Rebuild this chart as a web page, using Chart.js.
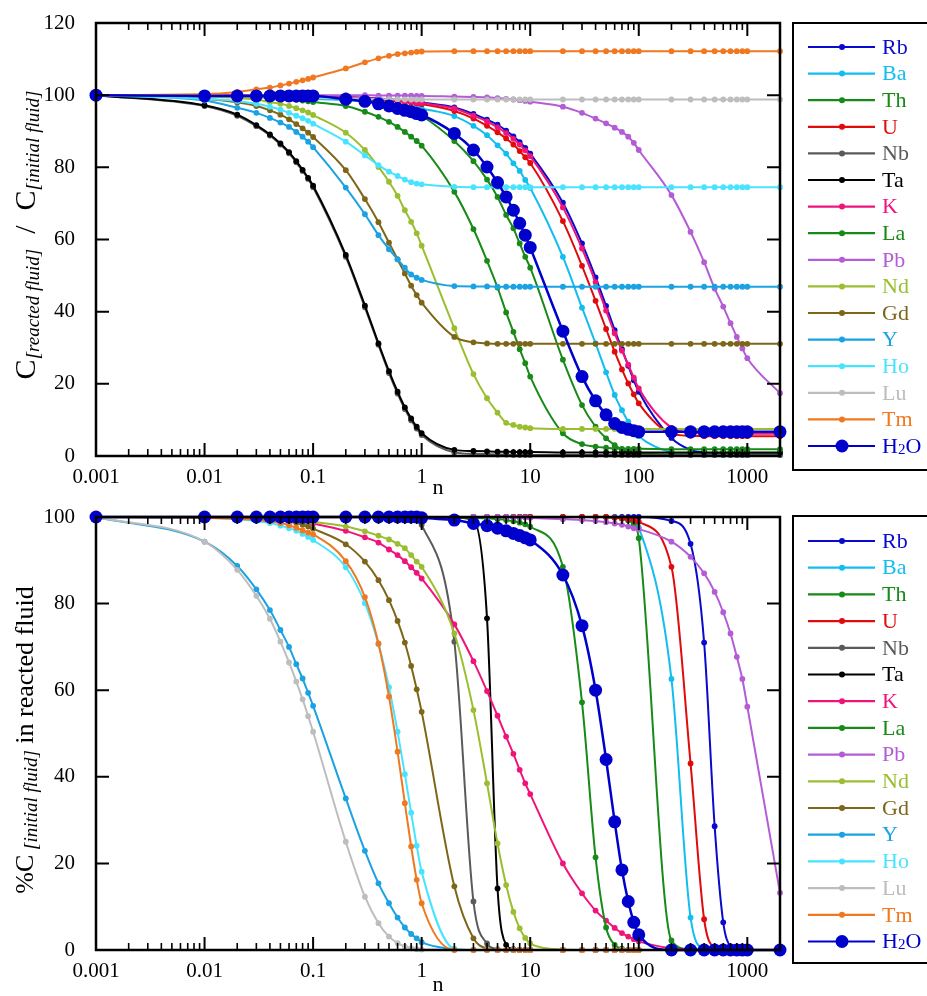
<!DOCTYPE html>
<html>
<head>
<meta charset="utf-8">
<script src="https://cdn.jsdelivr.net/npm/chart.js@4.4.1/dist/chart.umd.min.js"></script>
<style>
  html, body { margin: 0; padding: 0; background: #fff; }
  #wrap { position: relative; width: 927px; height: 996px; overflow: hidden; }
  canvas { position: absolute; left: 0; }
  #top { top: 0; }
  #bottom { top: 490px; }
</style>
</head>
<body>
<div id="wrap">
  <canvas id="top" width="927" height="500"></canvas>
  <canvas id="bottom" width="927" height="506"></canvas>
</div>
<script>
// n values (x axis, log)
const nValues = [0.001,
  0.01, 0.02, 0.03, 0.04, 0.05, 0.06, 0.07, 0.08, 0.09,
  0.1, 0.2, 0.3, 0.4, 0.5, 0.6, 0.7, 0.8, 0.9,
  1, 2, 3, 4, 5, 6, 7, 8, 9,
  10, 20, 30, 40, 50, 60, 70, 80, 90,
  100, 200, 300, 400, 500, 600, 700, 800, 900,
  1000, 2000];

const decadeTicks = [0.001, 0.01, 0.1, 1, 10, 100, 1000];

const elements = ['Rb', 'Ba', 'Th', 'U', 'Nb', 'Ta', 'K', 'La', 'Pb', 'Nd', 'Gd', 'Y', 'Ho', 'Lu', 'Tm', 'H2O'];
const colors = ['#0a0acc', '#14bdf0', '#178a17', '#e00b0b', '#5a5a5a', '#000000', '#f0147a', '#178a17',
  '#b35cd6', '#9abe30', '#7d6618', '#1aa2e2', '#48e4ff', '#bdbdbd', '#f07820', '#0000cc'];

// ---- top panel: C[reacted fluid] / C[initial fluid] ----
const rbRatio = [100,
  100, 100, 99.9, 99.9, 99.9, 99.9, 99.8, 99.8, 99.8,
  99.7, 99.5, 99.3, 99.1, 98.9, 98.7, 98.5, 98.4, 98.2,
  98.0, 96.6, 94.8, 93.2, 91.8, 90.2, 88.6, 87.0, 85.4,
  83.8, 70.2, 58.9, 49.5, 41.6, 34.9, 29.6, 25.0, 21.0,
  17.8, 5.0, 1.7, 1.0, 0.8, 0.8, 0.8, 0.8, 0.8,
  0.8, 0.8];
const baRatio = [100,
  99.9, 99.8, 99.7, 99.6, 99.5, 99.4, 99.3, 99.2, 99.1,
  99.0, 98.6, 98.3, 98.0, 97.7, 97.4, 97.1, 96.8, 96.6,
  96.3, 94.2, 91.5, 88.9, 86.1, 83.8, 81.1, 79.0, 76.5,
  74.3, 55.2, 41.1, 31.2, 23.2, 16.9, 12.7, 9.5, 7.2,
  5.5, 1.0, 0.4, 0.3, 0.3, 0.3, 0.3, 0.3, 0.3,
  0.3, 0.3];
const thRatio = [100,
  100, 100, 100, 99.9, 99.9, 99.9, 99.8, 99.8, 99.8,
  99.7, 99.3, 98.8, 98.2, 97.6, 96.9, 96.2, 95.6, 95.0,
  94.3, 87.3, 81.7, 76.6, 71.8, 66.8, 63.1, 58.9, 55.2,
  52.2, 26.7, 14.1, 8.1, 4.9, 3.0, 1.8, 1.2, 0.9,
  0.7, 0.5, 0.5, 0.5, 0.5, 0.5, 0.5, 0.5, 0.5,
  0.5, 0.5];
const uRatio = [100,
  100, 100, 99.9, 99.9, 99.8, 99.8, 99.8, 99.7, 99.7,
  99.6, 99.3, 99.0, 98.8, 98.5, 98.3, 98.1, 97.9, 97.7,
  97.5, 95.6, 93.5, 91.5, 89.7, 88.0, 86.3, 84.5, 82.8,
  81.2, 65.1, 52.7, 43.0, 35.2, 28.9, 24.0, 20.1, 17.1,
  14.6, 6.2, 5.6, 5.5, 5.5, 5.5, 5.5, 5.5, 5.5,
  5.5, 5.5];
const nbRatio = [100,
  97.0, 94.3, 91.4, 88.8, 86.3, 83.9, 81.4, 79.0, 76.8,
  74.5, 55.2, 41.2, 30.8, 23.0, 17.3, 13.0, 9.9, 7.6,
  5.8, 1.0, 0.6, 0.5, 0.4, 0.4, 0.3, 0.3, 0.3,
  0.3, 0.3, 0.3, 0.3, 0.3, 0.3, 0.3, 0.3, 0.3,
  0.3, 0.3, 0.3, 0.3, 0.3, 0.3, 0.3, 0.3, 0.3,
  0.3, 0.3];
const taRatio = [100,
  97.2, 94.6, 91.7, 89.1, 86.6, 84.2, 81.7, 79.3, 77.1,
  74.9, 55.7, 41.7, 31.2, 23.5, 17.8, 13.5, 10.4, 8.1,
  6.3, 1.7, 1.4, 1.3, 1.2, 1.2, 1.1, 1.1, 1.1,
  1.1, 1.0, 1.0, 1.0, 1.0, 1.0, 1.0, 1.0, 1.0,
  1.0, 1.0, 1.0, 1.0, 1.0, 1.0, 1.0, 1.0, 1.0,
  1.0, 1.0];
const kRatio = [100,
  100, 100, 99.9, 99.9, 99.9, 99.8, 99.8, 99.8, 99.7,
  99.7, 99.4, 99.2, 99.0, 98.8, 98.6, 98.4, 98.2, 98.0,
  97.8, 96.3, 94.3, 92.7, 91.1, 89.5, 87.9, 86.3, 84.7,
  83.1, 68.9, 57.5, 48.2, 40.3, 34.0, 29.2, 25.3, 21.7,
  18.7, 7.8, 6.5, 6.3, 6.2, 6.2, 6.2, 6.2, 6.2,
  6.2, 6.2];
const laRatio = [100,
  99.9, 99.7, 99.5, 99.3, 99.1, 98.9, 98.7, 98.5, 98.3,
  98.1, 97.0, 95.4, 94.0, 92.6, 91.2, 89.8, 88.5, 87.3,
  86.0, 73.2, 62.9, 54.1, 46.7, 39.8, 34.4, 29.6, 25.7,
  22.0, 6.3, 3.3, 2.6, 2.3, 2.1, 2.0, 2.0, 2.0,
  2.0, 1.9, 1.9, 1.9, 1.9, 1.9, 1.9, 1.9, 1.9,
  1.9, 1.9];
const pbRatio = [100,
  100, 100, 100, 100, 100, 100, 100, 100, 100,
  100, 100, 100, 99.9, 99.9, 99.9, 99.9, 99.9, 99.8,
  99.8, 99.6, 99.5, 99.4, 99.2, 99.0, 98.8, 98.6, 98.4,
  98.2, 96.8, 95.1, 93.5, 92.2, 91.0, 89.8, 88.5, 86.8,
  84.8, 72.3, 62.1, 53.7, 46.4, 41.4, 36.8, 33.0, 29.8,
  27.1, 17.4];
const ndRatio = [100,
  99.6, 99.2, 98.7, 98.1, 97.6, 97.0, 96.4, 95.8, 95.2,
  94.5, 89.6, 84.8, 80.1, 76.0, 72.1, 68.1, 64.9, 61.7,
  58.3, 35.4, 22.7, 16.0, 12.0, 9.2, 8.6, 8.1, 7.9,
  7.7, 7.5, 7.5, 7.5, 7.5, 7.5, 7.5, 7.5, 7.5,
  7.5, 7.5, 7.5, 7.5, 7.5, 7.5, 7.5, 7.5, 7.5,
  7.5, 7.5];
const gdRatio = [100,
  99.0, 98.0, 97.0, 95.8, 94.6, 93.3, 92.0, 90.8, 89.6,
  88.4, 79.2, 71.2, 64.8, 59.1, 54.5, 50.6, 47.2, 44.6,
  42.5, 33.0, 31.5, 31.2, 31.1, 31.1, 31.1, 31.1, 31.1,
  31.1, 31.1, 31.1, 31.1, 31.1, 31.1, 31.1, 31.1, 31.1,
  31.1, 31.1, 31.1, 31.1, 31.1, 31.1, 31.1, 31.1, 31.1,
  31.1, 31.1];
const yRatio = [100,
  98.5, 96.5, 95.1, 93.7, 92.4, 91.2, 89.8, 88.5, 87.1,
  85.6, 74.4, 67.0, 61.2, 57.3, 54.5, 52.2, 50.3, 49.4,
  48.8, 47.1, 47.0, 47.0, 46.9, 46.9, 46.9, 46.9, 46.9,
  46.9, 46.9, 46.9, 46.9, 46.9, 46.9, 46.9, 46.9, 46.9,
  46.9, 46.9, 46.9, 46.9, 46.9, 46.9, 46.9, 46.9, 46.9,
  46.9, 46.9];
const hoRatio = [100,
  99.0, 98.4, 97.6, 96.8, 96.0, 95.1, 94.3, 93.6, 92.9,
  92.1, 87.1, 83.3, 80.6, 78.8, 77.6, 76.6, 75.9, 75.5,
  75.3, 74.6, 74.5, 74.5, 74.5, 74.5, 74.5, 74.5, 74.5,
  74.5, 74.5, 74.5, 74.5, 74.5, 74.5, 74.5, 74.5, 74.5,
  74.5, 74.5, 74.5, 74.5, 74.5, 74.5, 74.5, 74.5, 74.5,
  74.5, 74.5];
const luRatio = [100,
  99.8, 99.7, 99.6, 99.6, 99.5, 99.5, 99.4, 99.4, 99.3,
  99.3, 99.1, 99.0, 98.9, 98.9, 98.9, 98.8, 98.8, 98.8,
  98.8, 98.8, 98.8, 98.8, 98.8, 98.8, 98.8, 98.8, 98.8,
  98.8, 98.8, 98.8, 98.8, 98.8, 98.8, 98.8, 98.8, 98.8,
  98.8, 98.8, 98.8, 98.8, 98.8, 98.8, 98.8, 98.8, 98.8,
  98.8, 98.8];
const tmRatio = [100,
  100.3, 100.9, 101.6, 102.1, 102.7, 103.2, 103.7, 104.1, 104.5,
  104.9, 107.4, 109.1, 110.2, 110.9, 111.4, 111.6, 111.8, 112.0,
  112.1, 112.2, 112.2, 112.2, 112.2, 112.2, 112.2, 112.2, 112.2,
  112.2, 112.2, 112.2, 112.2, 112.2, 112.2, 112.2, 112.2, 112.2,
  112.2, 112.2, 112.2, 112.2, 112.2, 112.2, 112.2, 112.2, 112.2,
  112.2, 112.2];
const h2oRatio = [100,
  99.8, 99.8, 99.8, 99.8, 99.8, 99.8, 99.8, 99.8, 99.8,
  99.8, 98.9, 98.3, 97.6, 97.0, 96.3, 95.8, 95.4, 94.9,
  94.5, 89.4, 84.8, 80.1, 75.8, 71.8, 68.1, 64.5, 61.2,
  57.8, 34.6, 22.0, 15.3, 11.4, 9.0, 7.9, 7.4, 7.0,
  6.7, 6.7, 6.7, 6.7, 6.7, 6.7, 6.7, 6.7, 6.7,
  6.7, 6.7];

// ---- bottom panel: %C[initial fluid] in reacted fluid ----
const rbPct = [100,
  100, 100, 100, 100, 100, 100, 100, 100, 100,
  100, 100, 100, 100, 100, 100, 100, 100, 100,
  100, 100, 100, 100, 100, 100, 100, 100, 100,
  100, 100, 100, 100, 100, 100, 100, 100, 100,
  100, 99.1, 93.8, 71.0, 28.6, 6.4, 0.8, 0.1, 0,
  0, 0];
const baPct = [100,
  100, 100, 100, 100, 100, 100, 100, 100, 100,
  100, 100, 100, 100, 100, 100, 100, 100, 100,
  100, 100, 100, 100, 100, 100, 100, 100, 100,
  100, 100, 100, 100, 100, 99.9, 99.7, 99.3, 98.7,
  97.6, 62.6, 7.5, 0.3, 0, 0, 0, 0, 0,
  0, 0];
const thPct = [100,
  100, 100, 100, 100, 100, 100, 100, 100, 100,
  100, 100, 100, 100, 100, 100, 100, 100, 100,
  100, 100, 100, 100, 100, 100, 100, 100, 100,
  100, 100, 100, 100, 100, 99.8, 99.6, 99.2, 98.3,
  95.1, 2.2, 0.1, 0, 0, 0, 0, 0, 0,
  0, 0];
const uPct = [100,
  100, 100, 100, 100, 100, 100, 100, 100, 100,
  100, 100, 100, 100, 100, 100, 100, 100, 100,
  100, 100, 100, 100, 100, 100, 100, 100, 100,
  100, 100, 100, 100, 100, 99.8, 99.7, 99.5, 99.3,
  98.9, 88.5, 43.1, 7.1, 0.5, 0, 0, 0, 0,
  0, 0];
const nbPct = [100,
  100, 100, 100, 100, 100, 100, 100, 100, 100,
  100, 100, 100, 100, 100, 100, 99.9, 99.7, 99.3,
  98.2, 71.2, 11.2, 1.5, 0.2, 0, 0, 0, 0,
  0, 0, 0, 0, 0, 0, 0, 0, 0,
  0, 0, 0, 0, 0, 0, 0, 0, 0,
  0, 0];
const taPct = [100,
  100, 100, 100, 100, 100, 100, 100, 100, 100,
  100, 100, 100, 100, 100, 100, 100, 100, 100,
  100, 99.9, 99.3, 76.6, 14.2, 1.2, 0.2, 0, 0,
  0, 0, 0, 0, 0, 0, 0, 0, 0,
  0, 0, 0, 0, 0, 0, 0, 0, 0,
  0, 0];
const kPct = [100,
  99.9, 99.8, 99.7, 99.6, 99.5, 99.3, 99.1, 98.9, 98.7,
  98.5, 96.8, 95.3, 94.1, 92.5, 91.2, 89.8, 88.4, 87.1,
  85.8, 75.2, 66.7, 59.8, 54.1, 49.3, 45.3, 41.6, 38.5,
  36.0, 20.0, 13.1, 9.1, 6.8, 5.1, 3.9, 3.1, 2.5,
  2.0, 0.4, 0.1, 0, 0, 0, 0, 0, 0,
  0, 0];
const laPct = [100,
  100, 100, 100, 100, 100, 100, 100, 100, 100,
  100, 100, 100, 100, 100, 100, 100, 100, 100,
  100, 99.9, 99.8, 99.7, 99.5, 99.3, 99.0, 98.7, 98.3,
  97.8, 88.5, 57.2, 21.4, 5.2, 1.2, 0.3, 0, 0,
  0, 0, 0, 0, 0, 0, 0, 0, 0,
  0, 0];
const pbPct = [100,
  100, 100, 100, 100, 100, 100, 100, 100, 100,
  100, 100, 100, 100, 100, 100, 100, 100, 100,
  100, 100, 100, 100, 100, 100, 99.9, 99.9, 99.9,
  99.8, 99.5, 99.3, 99.1, 98.8, 98.5, 98.2, 97.8, 97.4,
  97.2, 94.3, 90.8, 87.0, 82.7, 78.0, 73.1, 67.7, 62.6,
  56.2, 13.2];
const ndPct = [100,
  100, 99.9, 99.9, 99.8, 99.7, 99.6, 99.5, 99.3, 99.1,
  98.9, 97.8, 96.7, 95.7, 94.8, 93.8, 92.8, 91.2, 89.7,
  88.5, 73.1, 55.4, 38.5, 24.6, 15.0, 8.8, 5.0, 2.8,
  1.5, 0.1, 0, 0, 0, 0, 0, 0, 0,
  0, 0, 0, 0, 0, 0, 0, 0, 0,
  0, 0];
const gdPct = [100,
  99.9, 99.8, 99.6, 99.4, 99.2, 98.9, 98.6, 98.2, 97.8,
  97.3, 93.7, 89.7, 85.4, 80.8, 76.0, 71.0, 65.6, 60.2,
  55.0, 14.7, 2.7, 0.3, 0, 0, 0, 0, 0,
  0, 0, 0, 0, 0, 0, 0, 0, 0,
  0, 0, 0, 0, 0, 0, 0, 0, 0,
  0, 0];
const yPct = [100,
  94.3, 88.7, 83.3, 78.5, 73.9, 70.0, 66.0, 62.7, 59.4,
  56.4, 35.0, 22.9, 15.4, 10.8, 7.5, 5.2, 3.7, 2.7,
  1.8, 0.2, 0, 0, 0, 0, 0, 0, 0,
  0, 0, 0, 0, 0, 0, 0, 0, 0,
  0, 0, 0, 0, 0, 0, 0, 0, 0,
  0, 0];
const hoPct = [100,
  99.8, 99.5, 99.1, 98.6, 98.0, 97.4, 96.8, 96.1, 95.4,
  94.7, 88.4, 80.1, 70.6, 60.7, 50.4, 40.6, 31.7, 24.1,
  18.1, 0.3, 0, 0, 0, 0, 0, 0, 0,
  0, 0, 0, 0, 0, 0, 0, 0, 0,
  0, 0, 0, 0, 0, 0, 0, 0, 0,
  0, 0];
const luPct = [100,
  94.3, 87.8, 81.8, 76.5, 71.2, 66.4, 62.0, 57.9, 54.0,
  50.4, 25.0, 12.3, 6.2, 3.1, 1.6, 0.8, 0.4, 0.2,
  0.1, 0, 0, 0, 0, 0, 0, 0, 0,
  0, 0, 0, 0, 0, 0, 0, 0, 0,
  0, 0, 0, 0, 0, 0, 0, 0, 0,
  0, 0];
const tmPct = [100,
  99.8, 99.6, 99.3, 99.0, 98.6, 98.1, 97.5, 96.9, 96.4,
  96.0, 89.8, 81.5, 70.8, 58.5, 45.8, 33.9, 23.9, 16.2,
  10.8, 0, 0, 0, 0, 0, 0, 0, 0,
  0, 0, 0, 0, 0, 0, 0, 0, 0,
  0, 0, 0, 0, 0, 0, 0, 0, 0,
  0, 0];
const h2oPct = [100,
  100, 100, 100, 100, 100, 100, 100, 100, 100,
  100, 100, 100, 100, 100, 100, 100, 100, 100,
  99.8, 99.3, 98.5, 98.0, 97.4, 96.8, 96.2, 95.7, 95.2,
  94.7, 86.6, 74.9, 60.0, 44.0, 29.6, 18.5, 11.2, 6.4,
  3.5, 0, 0, 0, 0, 0, 0, 0, 0,
  0, 0];

const ratioSeries = [rbRatio, baRatio, thRatio, uRatio, nbRatio, taRatio, kRatio, laRatio,
  pbRatio, ndRatio, gdRatio, yRatio, hoRatio, luRatio, tmRatio, h2oRatio];
const pctSeries = [rbPct, baPct, thPct, uPct, nbPct, taPct, kPct, laPct,
  pbPct, ndPct, gdPct, yPct, hoPct, luPct, tmPct, h2oPct];

const serif = '"Liberation Serif", "Times New Roman", serif';

// frame with inward ticks on all four sides
function axesFrame(yStep) {
  return {
    id: 'axesFrame',
    afterDraw(chart) {
      const { ctx, chartArea: a } = chart;
      const x = chart.scales.x, y = chart.scales.y;
      ctx.save();
      ctx.strokeStyle = '#000';
      for (let e = -3; e <= 3; e++) {
        for (let k = 1; k <= 9; k++) {
          const v = k * Math.pow(10, e);
          if (v >= x.max) break;
          const px = x.getPixelForValue(v);
          const len = k === 1 ? 13 : 7;
          ctx.lineWidth = k === 1 ? 2 : 1.6;
          ctx.beginPath();
          ctx.moveTo(px, a.bottom); ctx.lineTo(px, a.bottom - len);
          ctx.moveTo(px, a.top); ctx.lineTo(px, a.top + len);
          ctx.stroke();
        }
      }
      ctx.lineWidth = 2;
      ctx.beginPath();
      for (let v = y.min; v <= y.max; v += yStep) {
        const py = y.getPixelForValue(v);
        ctx.moveTo(a.left, py); ctx.lineTo(a.left + 13, py);
        ctx.moveTo(a.right, py); ctx.lineTo(a.right - 13, py);
      }
      ctx.stroke();
      ctx.lineWidth = 2.5;
      ctx.strokeRect(a.left, a.top, a.right - a.left, a.bottom - a.top);
      ctx.restore();
    }
  };
}

// boxed legend at the right with line + dot samples
function sideLegend(boxTop, boxBottom, firstY, step) {
  return {
    id: 'sideLegend',
    afterDraw(chart) {
      const ctx = chart.ctx;
      ctx.save();
      ctx.strokeStyle = '#000';
      ctx.lineWidth = 2;
      ctx.strokeRect(793, boxTop, 200, boxBottom - boxTop);
      elements.forEach((name, i) => {
        const yy = firstY + i * step;
        const c = colors[i];
        ctx.strokeStyle = c;
        ctx.fillStyle = c;
        ctx.lineWidth = 2.2;
        ctx.beginPath();
        ctx.moveTo(808, yy); ctx.lineTo(875, yy);
        ctx.stroke();
        ctx.beginPath();
        ctx.arc(842, yy, name === 'H2O' ? 6.5 : 3, 0, Math.PI * 2);
        ctx.fill();
        ctx.textBaseline = 'middle';
        ctx.textAlign = 'left';
        if (name === 'H2O') {
          ctx.font = '22px ' + serif;
          ctx.fillText('H', 882, yy + 1);
          let w = ctx.measureText('H').width;
          ctx.font = '15px ' + serif;
          ctx.fillText('2', 882 + w, yy + 4);
          w += ctx.measureText('2').width;
          ctx.font = '22px ' + serif;
          ctx.fillText('O', 882 + w, yy + 1);
        } else {
          ctx.font = '22px ' + serif;
          ctx.fillText(name, 882, yy + 1);
        }
      });
      ctx.restore();
    }
  };
}

// rotated y title made of pieces (main text + italic subscripts)
function yTitle(pieces, centerY, baseX) {
  return {
    id: 'yTitle',
    afterDraw(chart) {
      const ctx = chart.ctx;
      ctx.save();
      ctx.fillStyle = '#000';
      ctx.textBaseline = 'alphabetic';
      let total = 0;
      pieces.forEach(p => { ctx.font = p.font; total += ctx.measureText(p.text).width; });
      ctx.translate(baseX, centerY + total / 2);
      ctx.rotate(-Math.PI / 2);
      let pos = 0;
      pieces.forEach(p => {
        ctx.font = p.font;
        ctx.fillText(p.text, pos, p.dy || 0);
        pos += ctx.measureText(p.text).width;
      });
      ctx.restore();
    }
  };
}

function xTitle(offset) {
  return {
    id: 'xTitle',
    afterDraw(chart) {
      const { ctx, chartArea: a } = chart;
      ctx.save();
      ctx.fillStyle = '#000';
      ctx.font = '22px ' + serif;
      ctx.textAlign = 'center';
      ctx.textBaseline = 'middle';
      ctx.fillText('n', (a.left + a.right) / 2, a.bottom + offset);
      ctx.restore();
    }
  };
}

function makeChart(canvasId, series, yMax, wantTop, wantBottom, extraPlugins) {
  const datasets = elements.map((name, i) => ({
    label: name,
    data: nValues.map((n, j) => ({ x: n, y: series[i][j] })),
    borderColor: colors[i],
    backgroundColor: colors[i],
    borderWidth: name === 'H2O' ? 2.5 : 2,
    pointRadius: name === 'H2O' ? 6.5 : 2.9,
    pointBorderWidth: 0,
    cubicInterpolationMode: 'monotone',
    order: -i,
    clip: 10
  }));
  const canvas = document.getElementById(canvasId);
  return new Chart(canvas, {
    type: 'line',
    data: { datasets },
    options: {
      responsive: false,
      animation: false,
      events: [],
      layout: { padding: { left: 0, right: 147, top: wantTop, bottom: 0 } },
      plugins: { legend: { display: false }, tooltip: { enabled: false } },
      scales: {
        x: {
          type: 'logarithmic',
          min: 0.001,
          max: 2000,
          grid: { display: false, drawTicks: false },
          border: { display: false },
          afterBuildTicks: s => { s.ticks = decadeTicks.map(v => ({ value: v })); },
          afterFit: s => { s.height = canvas.height - wantBottom; },
          ticks: {
            autoSkip: false, maxRotation: 0, padding: 9, color: '#000',
            font: { family: serif, size: 21 },
            callback: v => String(v)
          }
        },
        y: {
          min: 0,
          max: yMax,
          grid: { display: false, drawTicks: false },
          border: { display: false },
          // fixed axis width; drop the label overhang so the frame top stays put
          afterFit: s => { s.width = 96; s.paddingTop = 0; s.paddingBottom = 0; },
          ticks: {
            stepSize: 20, padding: 21, color: '#000',
            font: { family: serif, size: 21 },
            callback: v => String(v)
          }
        }
      }
    },
    plugins: [axesFrame(20)].concat(extraPlugins)
  });
}

makeChart('top', ratioSeries, 120, 23, 456, [
  sideLegend(23, 470, 47, 26.6),
  yTitle([
    { text: 'C', font: '30px ' + serif },
    { text: '[reacted fluid]', font: 'italic 19px ' + serif, dy: 4 },
    { text: '  /  ', font: '30px ' + serif },
    { text: 'C', font: '30px ' + serif },
    { text: '[initial fluid]', font: 'italic 19px ' + serif, dy: 4 }
  ], 235, 35),
  xTitle(32)
]);

makeChart('bottom', pctSeries, 100, 27, 460, [
  sideLegend(26, 473, 51, 26.7),
  yTitle([
    { text: '%C', font: '26px ' + serif },
    { text: ' [initial fluid]', font: 'italic 19px ' + serif, dy: 4 },
    { text: ' in reacted fluid', font: '26px ' + serif }
  ], 250, 33),
  xTitle(35)
]);
</script>
</body>
</html>
